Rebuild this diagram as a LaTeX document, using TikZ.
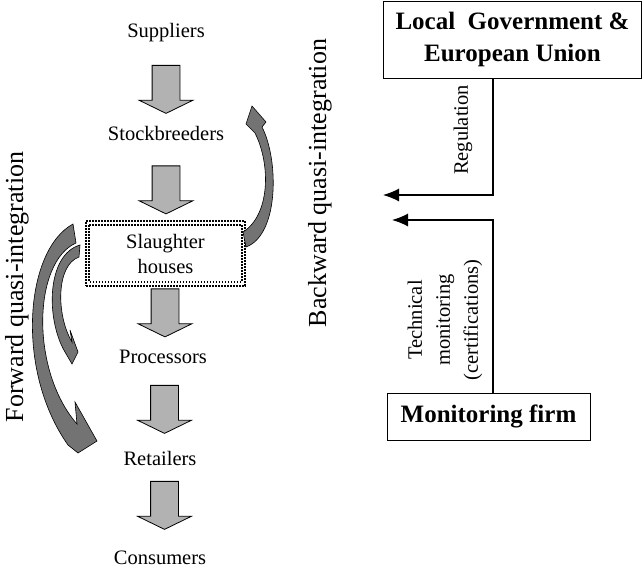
\documentclass[tikz,border=0pt]{standalone}
\usepackage{fontspec}
\setmainfont{Liberation Serif}
\usetikzlibrary{arrows.meta,shapes.arrows}
\tikzset{
	stage/.style={font=\fontsize{20.5}{25}\selectfont,inner sep=2pt},
	flowarrow/.style={single arrow,draw,fill=black!30,line width=0.8pt,rotate=-90,
		minimum height=48pt,single arrow head extend=13pt,
		single arrow tip angle=128,inner xsep=0pt,inner ysep=13.5pt},
	dotbox/.style={line width=1.6pt,dash pattern=on 1.6pt off 1.4pt},
	actor/.style={draw,line width=0.8pt,font=\fontsize{25}{32}\selectfont\bfseries,align=center},
	curvearrow/.style={draw,fill=black!55,line width=0.6pt},
	sidelabel/.style={rotate=90,font=\fontsize{20.5}{28}\selectfont,align=center},
	biglabel/.style={rotate=90,font=\fontsize{26}{30}\selectfont}
}
\begin{document}
\begin{tikzpicture}[x=1pt,y=-1pt,>={Latex[length=16pt,width=13pt]}]
		\useasboundingbox (0,0) rectangle (643,570);
		\path
		+(166,33)  node[stage]  (sup) {Suppliers}
		+(166,133)  node[stage]  (stock) {Stockbreeders}
		+(165.5,253.5)  node[stage,draw,dotbox,minimum width=159pt,minimum height=65pt,align=center]  (slaughter) {Slaughter\\houses}
		+(163,357)  node[stage]  (proc) {Processors}
		+(160,458)  node[stage]  (ret) {Retailers}
		+(160,558)  node[stage]  (cons) {Consumers}
		+(512.5,39.5)  node[actor,minimum width=258pt,minimum height=77pt]  (gov) {Local~ Government \&\\European Union}
		+(488.5,416.5)  node[actor,minimum width=203pt,minimum height=47pt]  (monfirm) {Monitoring firm}
		;
		\draw[dotbox] ([shift={(4pt,-5pt)}]slaughter.north west) rectangle ([shift={(-4pt,5pt)}]slaughter.south east);
		% chain arrows
		\node[flowarrow] (arr1) at (166,86) {};
		\node[flowarrow] (arr2) at (166,186.5) {};
		\node[flowarrow] (arr3) at (165,309.5) {};
		\node[flowarrow] (arr4) at (164.5,406) {};
		\node[flowarrow] (arr5) at (164.5,502) {};
		% quasi-integration arrows
		\path[curvearrow] (73,224) .. controls (25,250) and (15,370) .. (68,445) -- (78,453) -- (97,441) -- (75,402) -- (77,424)
		.. controls (30,370) and (33,262) .. (76,243) -- cycle;
		\path[curvearrow] (80,245) .. controls (46,255) and (46,320) .. (65,352) -- (72,364) -- (78,352) -- (70,330) -- (72,342)
		.. controls (56,315) and (56,265) .. (79,257) -- cycle;
		\path[curvearrow] (246,247) .. controls (279,235) and (279,160) .. (262,127) -- (266,122) -- (252,106) -- (246,124) -- (255,133)
		.. controls (271,165) and (270,215) .. (243,232) -- cycle;
		\node[biglabel] (fwd) at (17,287) {Forward quasi-integration};
		\node[biglabel] (bwd) at (320,183) {Backward quasi-integration};
		% control lines
		\coordinate (regend) at (383,195);
		\coordinate (monend) at (392,220);
		\draw[->,line width=1.2pt] ([xshift=-19.5pt]gov.south) |- (regend);
		\draw[->,line width=1.2pt] ([xshift=4.5pt]monfirm.north) |- (monend);
		\node[sidelabel] (reg) at (463,130) {Regulation};
		\node[sidelabel] (tech) at (445,320) {Technical\\monitoring\\(certifications)};
\end{tikzpicture}
\end{document}
